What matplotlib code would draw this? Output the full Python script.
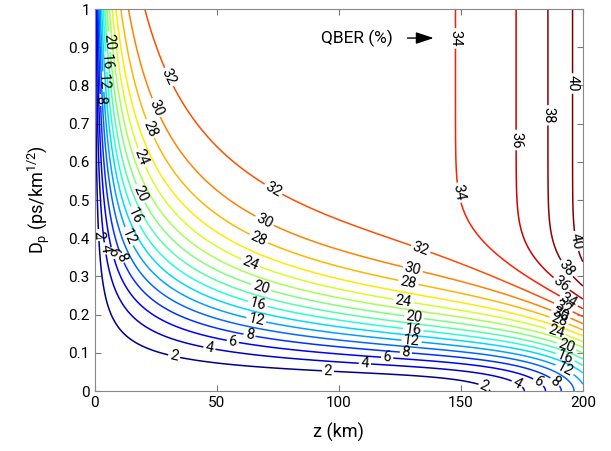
#Mapa de contornos del QBER (%) en funcion de la distancia z y del coeficiente de PMD Dp
import numpy as np #para operaciones con matrices
import matplotlib.pyplot as plt #para graficar

plt.rcParams['font.family'] = ['Roboto', 'DejaVu Sans']
plt.rcParams['mathtext.fontset'] = 'custom'
plt.rcParams['mathtext.rm'] = 'Roboto'

#niveles de QBER (%) dibujados
niveles = list(range(2, 42, 2))

#parametros del modelo, ajustados a lo que se lee en la figura
e_max = 0.3308     #QBER de saturacion por PMD
x0 = 2.33          #ps, retardo diferencial caracteristico
p_exp = 1.85       #exponente de la curva de PMD
L_dec = 44.4       #km por decada de perdidas del canal
r0 = 9.44e-6       #cuentas oscuras / senal en z = 0
k_perdida = 0.65   #perdida maxima de senal por PMD
m_exp = 3

#posiciones aproximadas (z, Dp) de las etiquetas de cada nivel
etiquetas = {
    2: [(0.7, 0.408), (32.8, 0.099), (95.6, 0.053), (159.8, 0.016)],
    4: [(4.1, 0.373), (47.1, 0.116), (110.7, 0.074), (173.5, 0.024)],
    6: [(6.8, 0.36), (56.7, 0.134), (119.8, 0.087), (182.4, 0.029)],
    8: [(2.7, 0.762), (10.9, 0.35), (63.5, 0.149), (127.5, 0.103), (189.2, 0.029)],
    12: [(3.4, 0.81), (13.7, 0.404), (66.3, 0.19), (129.8, 0.132), (192.6, 0.057)],
    16: [(4.1, 0.862), (15.7, 0.456), (66.9, 0.23), (130.5, 0.162), (192.6, 0.086)],
    20: [(5.5, 0.915), (19.1, 0.518), (68.3, 0.275), (130.9, 0.196), (193.0, 0.112)],
    24: [(19.8, 0.613), (64.2, 0.341), (126.6, 0.24), (188.9, 0.153)],
    28: [(23.2, 0.688), (67.6, 0.404), (128.7, 0.29), (189.9, 0.179)],
    30: [(26.0, 0.744), (70.4, 0.456), (130.5, 0.324), (190.6, 0.195)],
    32: [(30.7, 0.823), (73.8, 0.535), (133.9, 0.378), (191.2, 0.208)],
    34: [(145.5, 0.923), (148.2, 0.518), (193.3, 0.225)],
    36: [(174.2, 0.657), (190.6, 0.275)],
    38: [(186.5, 0.722), (193.0, 0.319)],
    40: [(194.7, 0.805), (196.0, 0.391)],
}

#malla
z = np.linspace(0, 200, 2001)
Dp = np.linspace(0, 1, 501)
Z, D = np.meshgrid(z, Dp)
x = D * np.sqrt(Z) #retardo medio (ps)
e_pmd = e_max * (1 - np.exp(-(x / x0) ** p_exp))
g = 1 - k_perdida * (e_pmd / e_max) ** m_exp
r = r0 * 10 ** (Z / L_dec) / g
qber = 100 * (e_pmd + 0.5 * r) / (1 + r)

fig = plt.figure(figsize=(6.11, 4.51), dpi=100)
ax = fig.add_axes([0.155, 0.133, 0.799, 0.847])

cs = ax.contour(Z, D, qber, levels=niveles, cmap='jet', vmin=1.5, vmax=38.5, linewidths=1.1)
#preparar etiquetas (sin colocarlas) y luego ponerlas nivel por nivel
ax.clabel(cs, levels=niveles, manual=[], inline=True, fontsize=10.5, colors='black', fmt='%d')
for nivel, pos in etiquetas.items():
    i = niveles.index(nivel)
    cs.labelIndiceList = [i]
    cs.labelLevelList = [nivel] * len(niveles)
    for (zx, dy) in pos:
        cs.add_label_near(zx, dy, inline=True, inline_spacing=2)

ax.text(107.4, 0.924, 'QBER (%)', ha='center', va='center', fontsize=12.5)
ax.annotate('', xy=(140, 0.924), xytext=(127, 0.924),
            arrowprops=dict(arrowstyle='-|>,head_length=0.6,head_width=0.2', color='black', lw=1, mutation_scale=18))

ax.set_xlim(0, 200)
ax.set_ylim(0, 1)
ax.set_xticks([0, 50, 100, 150, 200])
ax.set_yticks(np.arange(0, 1.01, 0.1))
ax.set_yticklabels(['0', '0.1', '0.2', '0.3', '0.4', '0.5', '0.6', '0.7', '0.8', '0.9', '1'])
ax.tick_params(direction='in', top=True, right=True, labelsize=11, color='#777777', length=4)
for s in ax.spines.values():
    s.set_color('#888888')
ax.set_xlabel('z (km)', fontsize=13, labelpad=9)
ax.set_ylabel(r'D$_{\rm p}$ (ps/km$^{\rm 1/2}$)', fontsize=13, labelpad=12)

fig.savefig('out.png', dpi=100)
